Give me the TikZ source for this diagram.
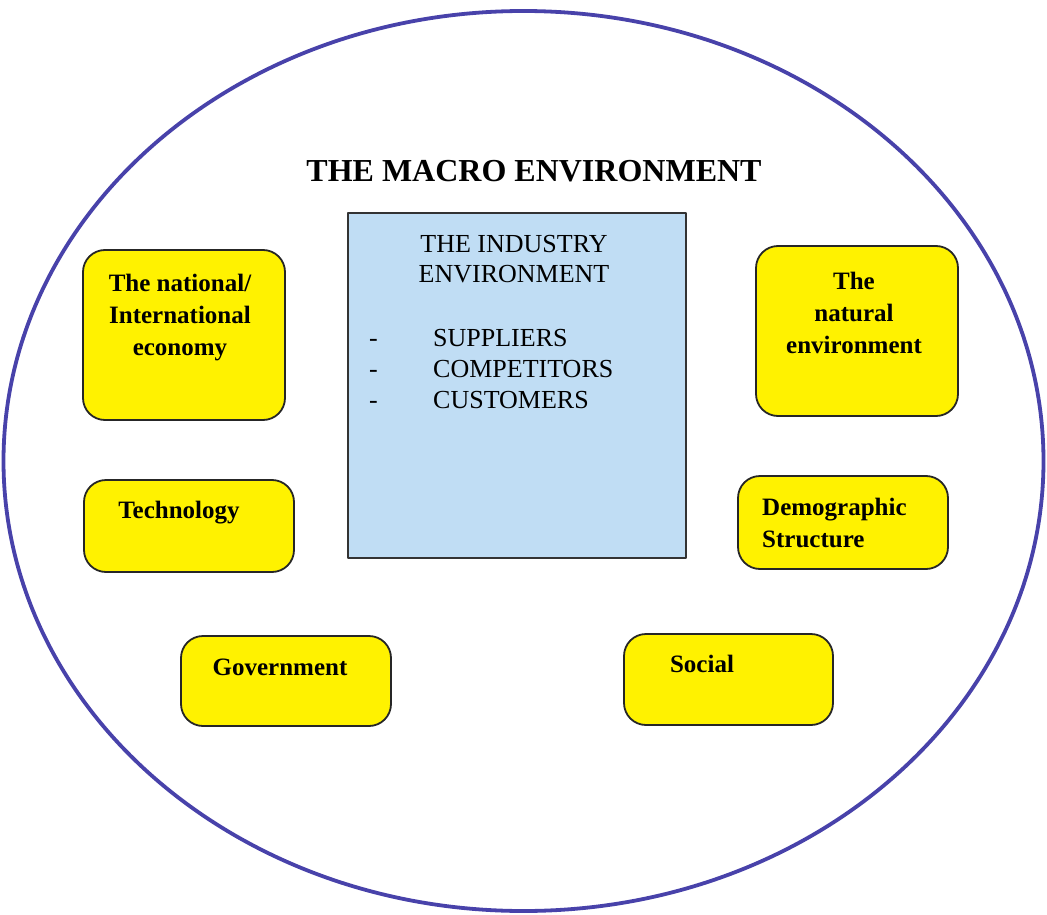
\documentclass[tikz,border=0pt]{standalone}
\usepackage{fontspec}
\setmainfont{Liberation Serif}
\usepackage{tikz}
\usetikzlibrary{positioning,calc}

\begin{document}
\begin{tikzpicture}[
		x=1pt,y=-1pt,
		line cap=round,line join=round,
		]
		% ---- colors (close to the picture)
		\definecolor{macroBlue}{RGB}{72,66,170}
		\definecolor{factorYellow}{RGB}{255,242,0}
		\definecolor{industryBlue}{RGB}{192,221,244}
		
		% ---- styles
		\tikzset{
			factorbox/.style={draw=black!85, fill=factorYellow, line width=1.8pt,
				rounded corners=22pt, inner sep=0pt},
			factortxt/.style={font=\fontsize{25}{32}\selectfont\bfseries, align=left, inner sep=0pt},
			industrytxt/.style={font=\fontsize{26}{30}\selectfont, inner sep=0pt}
		}
		
		\useasboundingbox (0,0) rectangle (1047,915);
		
		% ---- outer ellipse
		\draw[macroBlue, line width=3.8pt] (523.5,461) ellipse (520 and 450);
		
		\node[font=\fontsize{32}{36}\selectfont\bfseries] (macro) at (534,171) {THE MACRO ENVIRONMENT};
		
		% ---- industry box
		\node[draw=black!80, fill=industryBlue, line width=1.6pt, minimum width=338pt,
			minimum height=345pt, inner sep=0pt] (industry) at (517,385.5) {};
		\node[industrytxt, align=center] (indTitle) at (514,259) {THE INDUSTRY\\ENVIRONMENT};
		% list lines (dash + item on one baseline)
		\node[industrytxt, anchor=base west] (dash1) at (369,346) {-};
		\node[industrytxt, anchor=base west] (dash2) at (369,377) {-};
		\node[industrytxt, anchor=base west] (dash3) at (369,408) {-};
		\node[industrytxt, anchor=base west] (sup) at (433,346) {SUPPLIERS};
		\node[industrytxt, anchor=base west] (comp) at (433,377) {COMPETITORS};
		\node[industrytxt, anchor=base west] (cust) at (433,408) {CUSTOMERS};
		
		% ---- yellow factor boxes
		\node[factorbox, minimum width=202pt, minimum height=170pt] (nat) at (184,335) {};
		\node[factortxt, align=center] (natT) at (180,318) {The national/\\International\\economy};
		
		\node[factorbox, minimum width=210pt, minimum height=92pt] (tech) at (189,526) {};
		\node[factortxt] (techT) at (179,513) {Technology};
		
		\node[factorbox, minimum width=210pt, minimum height=90pt] (gov) at (286,681) {};
		\node[factortxt] (govT) at (280,667) {Government};
		
		\node[factorbox, minimum width=202pt, minimum height=170pt] (natural) at (857,331) {};
		\node[factortxt, align=center] (naturalT) at (854,313) {The\\natural\\environment};
		
		\node[factorbox, minimum width=210pt, minimum height=93pt] (demo) at (843,522.5) {};
		\node[factortxt, anchor=west] (demoT) at (762,523) {Demographic\\Structure};
		
		\node[factorbox, minimum width=209pt, minimum height=91pt] (social) at (728.5,679.5) {};
		\node[factortxt] (socialT) at (702,664) {Social};
		
	\end{tikzpicture}
\end{document}
